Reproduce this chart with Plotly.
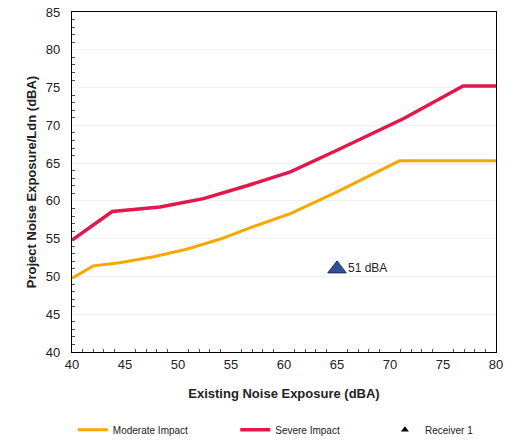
import plotly.graph_objects as go

existing_mod = [40, 42, 44.5, 47.7, 50.8, 54, 57.1, 60.6, 65, 70.9, 80]
moderate = [49.75, 51.4, 51.8, 52.6, 53.6, 54.95, 56.6, 58.3, 61.2, 65.3, 65.3]
existing_sev = [40, 43.8, 48.3, 52.4, 56.5, 60.6, 65, 71.3, 76.9, 80]
severe = [54.8, 58.6, 59.2, 60.3, 62.0, 63.85, 66.7, 70.9, 75.2, 75.2]
receiver_x = [65]
receiver_y = [51]
receiver_label = ["51 dBA"]

fig = go.Figure()
fig.add_trace(go.Scatter(x=existing_mod, y=moderate, mode="lines", name="Moderate Impact",
                         line=dict(color="#F7A800", width=3), legend="legend"))
fig.add_trace(go.Scatter(x=existing_sev, y=severe, mode="lines", name="Severe Impact",
                         line=dict(color="#E2174B", width=3.5), legend="legend2"))
fig.add_trace(go.Scatter(x=receiver_x, y=receiver_y, mode="markers+text", text=receiver_label,
                         textposition="middle right", textfont=dict(size=12, color="#222"),
                         marker=dict(symbol="triangle-up", size=16, color="#2F4F9A",
                                     line=dict(color="#1a2a5a", width=1)),
                         showlegend=False))
fig.add_trace(go.Scatter(x=[None], y=[None], mode="markers", name="Receiver 1",
                         marker=dict(symbol="triangle-up", size=7, color="black"), legend="legend3"))

leg_common = dict(orientation="h", y=-0.229, yanchor="middle", xanchor="left",
                  font=dict(size=10), bgcolor="rgba(0,0,0,0)")

fig.update_layout(
    width=516, height=440,
    margin=dict(l=72, r=20, t=12, b=88, autoexpand=False),
    paper_bgcolor="white", plot_bgcolor="white",
    font=dict(family="Liberation Sans, Arial, sans-serif", size=13, color="#222"),
    legend=dict(x=0.002, **leg_common),
    legend2=dict(x=0.385, **leg_common),
    legend3=dict(x=0.738, **leg_common),
    xaxis=dict(range=[40, 80], dtick=5, showline=True, linecolor="black", linewidth=1.2,
               mirror=True, ticks="", showgrid=False, zeroline=False,
               tickfont=dict(size=13),
               title=dict(text="<b>Existing Noise Exposure (dBA)</b>", font=dict(size=13), standoff=18),
               minor=dict(ticks="inside", ticklen=3, tickcolor="#555", dtick=1)),
    yaxis=dict(range=[40, 85], dtick=5, showline=True, linecolor="black", linewidth=1.2,
               mirror=True, ticks="", showgrid=True, gridcolor="#f0f0f0", zeroline=False,
               tickfont=dict(size=13), ticklabelstandoff=8,
               title=dict(text="<b>Project Noise Exposure/Ldn (dBA)</b>", font=dict(size=13), standoff=6),
               minor=dict(ticks="inside", ticklen=3, tickcolor="#555", dtick=1)),
)

fig.write_html("out.html", config={"displayModeBar": False},
               post_script="document.body.style.margin='0';")
